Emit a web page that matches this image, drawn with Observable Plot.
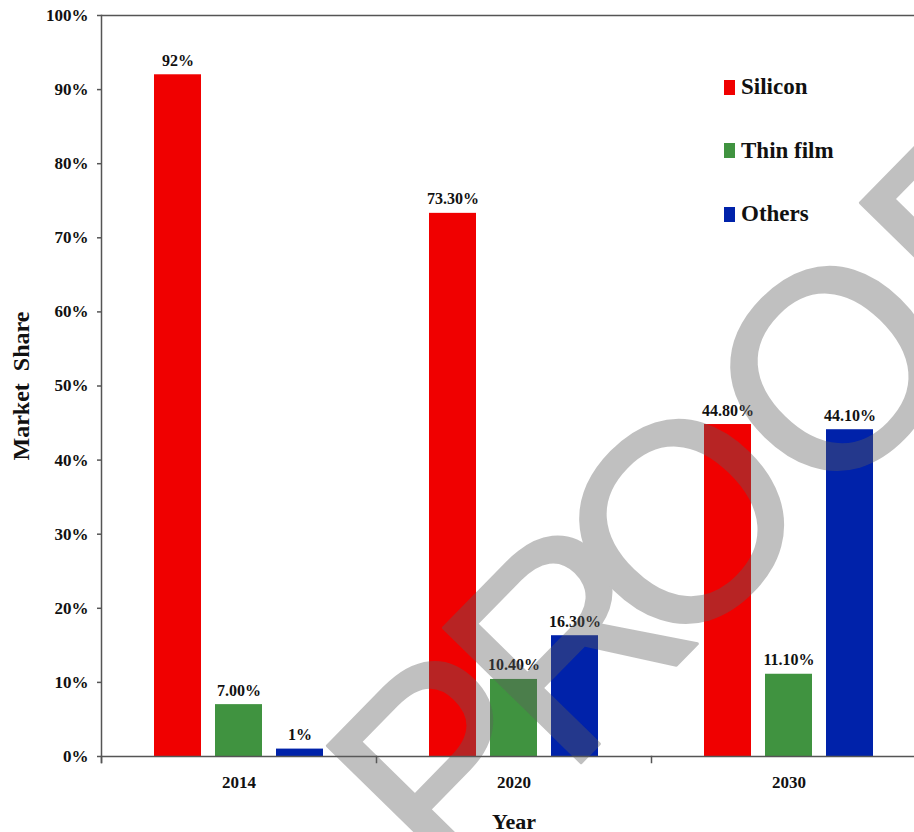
<!DOCTYPE html>
<html>
<head>
<meta charset="utf-8">
<script src="https://cdn.jsdelivr.net/npm/d3@7"></script>
<script src="https://cdn.jsdelivr.net/npm/@observablehq/plot@0.6"></script>
<style>
  html, body { margin: 0; padding: 0; background: #fff; overflow: hidden; }
  #wrap { position: relative; width: 914px; height: 832px; overflow: hidden; }
  #chart svg { display: block; max-width: none !important; }
  g[aria-label="y-axis label"] text { font-size: 24px; word-spacing: 6px; }
  g[aria-label="fx-axis label"] text { font-size: 22px; }
  #legend { position: absolute; left: 724px; top: 72px; font-family: "Liberation Serif", "Times New Roman", serif; font-weight: bold; font-size: 23px; color: #111; }
  #legend .item { display: flex; align-items: center; height: 30px; margin-bottom: 33.5px; }
  #legend .sw { width: 11px; height: 15px; margin-right: 6px; }
  #watermark { position: absolute; left: 0; top: 0; pointer-events: none; }
</style>
</head>
<body>
<div id="wrap">
  <div id="chart"></div>
  <div id="legend"></div>
  <svg id="watermark" width="914" height="832"></svg>
</div>
<script>
// ---- data ----
const years = ["2014", "2020", "2030"];
const series = ["Silicon", "Thin film", "Others"];
const siliconValues = [92, 73.3, 44.8];
const thinFilmValues = [7.0, 10.4, 11.1];
const othersValues = [1, 16.3, 44.1];
const siliconLabels = ["92%", "73.30%", "44.80%"];
const thinFilmLabels = ["7.00%", "10.40%", "11.10%"];
const othersLabels = ["1%", "16.30%", "44.10%"];
const yTicks = [0, 10, 20, 30, 40, 50, 60, 70, 80, 90, 100];
const colors = ["#f00000", "#409340", "#0022aa"];

// ---- table ----
const valueSets = [siliconValues, thinFilmValues, othersValues];
const labelSets = [siliconLabels, thinFilmLabels, othersLabels];
const rows = [];
years.forEach((year, i) => {
  series.forEach((s, j) => {
    rows.push({year, series: s, value: valueSets[j][i], label: labelSets[j][i]});
  });
});

const axisColor = "#555";
const font = "'Liberation Serif', 'Times New Roman', serif";

const chart = Plot.plot({
  width: 930,
  height: 832,
  marginLeft: 101,
  marginRight: 4,
  marginTop: 15,
  marginBottom: 76,
  style: {fontFamily: font, fontWeight: "bold", color: "#111", background: "white"},
  fx: {domain: years, padding: 0},
  x: {domain: series, paddingInner: 0.23, paddingOuter: 0.86, axis: null},
  y: {domain: [0, 100]},
  color: {domain: series, range: colors},
  marks: [
    Plot.barY(rows, {fx: "year", x: "series", y: "value", fill: "series"}),
    Plot.ruleY([0, 100], {stroke: axisColor, strokeWidth: 1.5}),
    Plot.frame({anchor: "left", facetAnchor: "left", insetBottom: -6, stroke: axisColor, strokeWidth: 1.5}),
    Plot.frame({anchor: "left", insetTop: 741, insetBottom: -6, stroke: axisColor, strokeWidth: 1.5}),
    Plot.text(rows, {fx: "year", x: "series", y: "value", text: "label", lineAnchor: "bottom", dy: -9, fontSize: 16, fontWeight: "bold", fill: "#111"}),
    Plot.axisY({
      ticks: yTicks, tickFormat: d => d + "%", tickSize: 4, tickPadding: 9,
      fontSize: 17, stroke: axisColor, strokeWidth: 1.5,
      label: "Market Share", labelAnchor: "center", labelOffset: 90, labelArrow: "none"
    }),
    Plot.axisFx({
      anchor: "bottom", tickSize: 0, tickPadding: 19, fontSize: 17,
      label: "Year", labelAnchor: "center", labelOffset: 72, labelArrow: "none"
    })
  ]
});
document.getElementById("chart").appendChild(chart);

// ---- legend ----
const legend = d3.select("#legend");
series.forEach((s, i) => {
  const item = legend.append("div").attr("class", "item");
  item.append("div").attr("class", "sw").style("background", colors[i]);
  item.append("span").text(s);
});

// ---- watermark (image overlay, not data) ----
const wm = d3.select("#watermark").append("g")
  .attr("opacity", 0.39)
  .attr("font-family", "'Liberation Sans', Arial, sans-serif")
  .attr("font-size", 280)
  .attr("fill", "rgb(94,94,94)")
  .attr("stroke", "rgb(94,94,94)")
  .attr("stroke-width", 3)
  .attr("stroke-linejoin", "round");
const wmLetters = [
  {ch: "P", x: 449, y: 897, anchor: "start"},
  {ch: "R", x: 565, y: 779, anchor: "start"},
  {ch: "O", x: 751, y: 589, anchor: "middle"},
  {ch: "O", x: 902, y: 436, anchor: "middle"},
  {ch: "F", x: 982, y: 354, anchor: "start"}
];
wmLetters.forEach(l => {
  wm.append("text")
    .attr("transform", `translate(${l.x},${l.y}) rotate(-45.6)`)
    .attr("text-anchor", l.anchor)
    .text(l.ch);
});
</script>
</body>
</html>
